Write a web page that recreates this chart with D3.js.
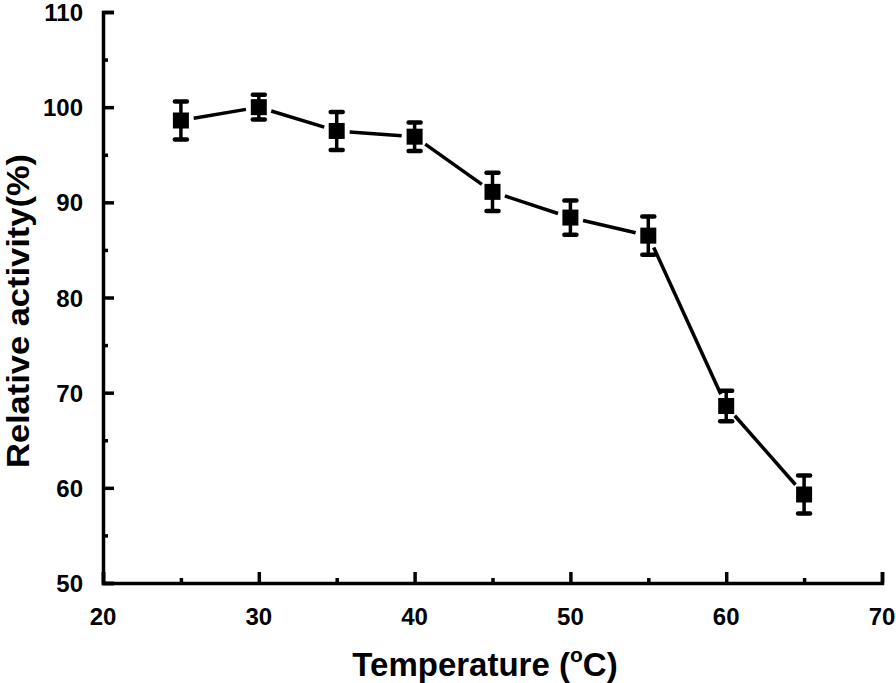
<!DOCTYPE html>
<html>
<head>
  <title>Relative activity vs temperature</title>
  <script src="https://d3js.org/d3.v7.min.js"></script>
  <style>
    body { margin: 0; background: #fff; }
    text { font-family: Arial, "Liberation Sans", sans-serif; font-weight: bold; fill: #000; }
  </style>
</head>
<body>

<script>
const temps = [25, 30, 35, 40, 45, 50, 55, 60, 65];
const activity = [98.6, 100.0, 97.5, 96.9, 91.1, 88.4, 86.5, 68.6, 59.3];
const errors = [2.0, 1.3, 2.0, 1.5, 2.0, 1.8, 2.0, 1.6, 2.0];
const xTicks = [20, 30, 40, 50, 60, 70];
const yTicks = [50, 60, 70, 80, 90, 100, 110];

const width = 896;
const height = 683;
const margin = { top: 12, right: 14, bottom: 100, left: 103 };

const svg = d3.select('body')
  .append('svg')
  .attr('width', width)
  .attr('height', height);

const x = d3.scaleLinear().domain([20, 70]).range([margin.left, width - margin.right]);
const y = d3.scaleLinear().domain([50, 110]).range([height - margin.bottom, margin.top]);

// axes, ticks pointing inward
const xAxis = svg.append('g')
  .attr('transform', `translate(0,${y(50)})`)
  .call(d3.axisBottom(x).tickValues(d3.range(20, 71, 5)).tickSize(-11).tickFormat(''));
xAxis.selectAll('.tick line').filter(d => d % 10 !== 0).attr('y2', -5);

const yAxis = svg.append('g')
  .attr('transform', `translate(${x(20)},0)`)
  .call(d3.axisLeft(y).tickValues(d3.range(50, 111, 5)).tickSize(-11).tickFormat(''));
yAxis.selectAll('.tick line').filter(d => d % 10 !== 0).attr('x2', 5);

svg.selectAll('.domain').attr('stroke-width', 3.5).attr('stroke', '#000');
svg.selectAll('.tick line').attr('stroke-width', 3.5).attr('stroke', '#000');

svg.append('g').selectAll('text')
  .data(xTicks).enter().append('text')
  .attr('x', d => x(d))
  .attr('y', 625)
  .attr('text-anchor', 'middle')
  .attr('font-size', 24)
  .text(d => d);

svg.append('g').selectAll('text')
  .data(yTicks).enter().append('text')
  .attr('x', 83)
  .attr('y', d => y(d) + 9)
  .attr('text-anchor', 'end')
  .attr('font-size', 24)
  .text(d => d);

// axis titles
const xt = svg.append('text')
  .attr('x', 485)
  .attr('y', 676)
  .attr('text-anchor', 'middle')
  .attr('font-size', 33);
xt.append('tspan').text('Temperature (');
xt.append('tspan').attr('font-size', 21).attr('dy', -14).text('o');
xt.append('tspan').attr('dy', 14).text('C)');

svg.append('text')
  .attr('transform', `translate(29,311) rotate(-90)`)
  .attr('text-anchor', 'middle')
  .attr('font-size', 31)
  .attr('textLength', 314)
  .attr('lengthAdjust', 'spacingAndGlyphs')
  .text('Relative activity(%)');

// connecting line, drawn as segments with a gap around each marker
const pts = temps.map((t, i) => [x(t), y(activity[i])]);
const gap = 13;
const segs = d3.pairs(pts).map(([a, b]) => {
  const dx = b[0] - a[0], dy = b[1] - a[1];
  const len = Math.hypot(dx, dy);
  const ux = dx / len, uy = dy / len;
  return [a[0] + ux * gap, a[1] + uy * gap, b[0] - ux * gap, b[1] - uy * gap];
});
svg.append('g').selectAll('line')
  .data(segs).enter().append('line')
  .attr('x1', d => d[0]).attr('y1', d => d[1])
  .attr('x2', d => d[2]).attr('y2', d => d[3])
  .attr('stroke', '#000')
  .attr('stroke-width', 3.5);

// error bars
const eb = svg.append('g').attr('stroke', '#000').attr('stroke-linecap', 'round');
temps.forEach((t, i) => {
  const cx = x(t);
  const top = y(activity[i] + errors[i]);
  const bot = y(activity[i] - errors[i]);
  eb.append('line').attr('x1', cx).attr('x2', cx).attr('y1', top).attr('y2', bot).attr('stroke-width', 3.5);
  eb.append('line').attr('x1', cx - 6).attr('x2', cx + 6).attr('y1', top).attr('y2', top).attr('stroke-width', 4.5);
  eb.append('line').attr('x1', cx - 6).attr('x2', cx + 6).attr('y1', bot).attr('y2', bot).attr('stroke-width', 4.5);
});

// square markers
svg.append('g').selectAll('rect')
  .data(temps).enter().append('rect')
  .attr('x', d => x(d) - 8)
  .attr('y', (d, i) => y(activity[i]) - 8)
  .attr('width', 16)
  .attr('height', 16)
  .attr('fill', '#000');
</script>

</body>
</html>
